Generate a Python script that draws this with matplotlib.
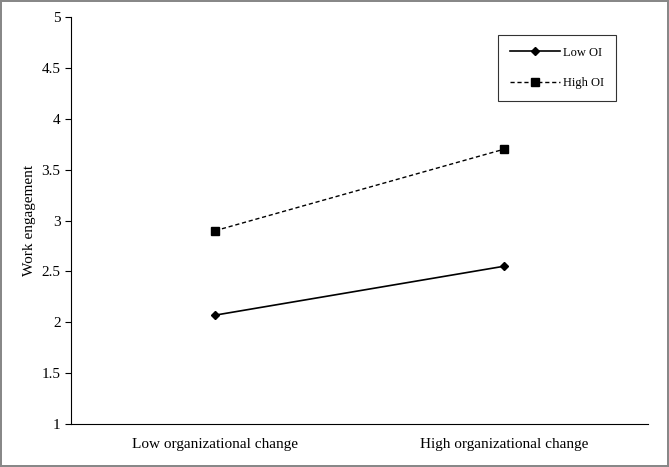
import matplotlib.pyplot as plt

plt.rcParams['font.family'] = ['Liberation Serif', 'DejaVu Serif']

categories = ['Low organizational change', 'High organizational change']
low_oi = [2.07, 2.55]
high_oi = [2.90, 3.70]

fig = plt.figure(figsize=(6.69, 4.67), dpi=100)
fig.patch.set_edgecolor('#888888')
fig.patch.set_linewidth(1.5)
ax = fig.add_axes([71/669, 43/467, 577/669, 407/467])

x = list(range(len(categories)))
ax.plot(x, low_oi, color='black', linewidth=1.2, marker='D', markersize=4.5, label='Low OI')
ax.plot(x, high_oi, color='black', linewidth=1.0, linestyle='--', dashes=(3, 2),
        marker='s', markersize=5.5, label='High OI')

ax.set_xlim(-0.5, 1.5)
ax.set_ylim(1, 5)
ax.set_yticks([1, 1.5, 2, 2.5, 3, 3.5, 4, 4.5, 5])
ax.set_yticklabels(['1', '1.5', '2', '2.5', '3', '3.5', '4', '4.5', '5'])
ax.set_xticks(x)
ax.set_xticklabels(categories)
ax.tick_params(axis='x', length=0, labelsize=11, pad=10)
ax.tick_params(axis='y', labelsize=11, direction='out', length=4)
ax.spines['top'].set_visible(False)
ax.spines['right'].set_visible(False)
ax.set_ylabel('Work engagement', fontsize=11)

leg = ax.legend(loc='upper right', bbox_to_anchor=(0.955, 0.97), fancybox=False,
                edgecolor='black', fontsize=9, labelspacing=1.5,
                handlelength=4, handletextpad=0.3, borderpad=0.9)
leg.get_frame().set_linewidth(0.8)

fig.savefig('out.png', dpi=100)
